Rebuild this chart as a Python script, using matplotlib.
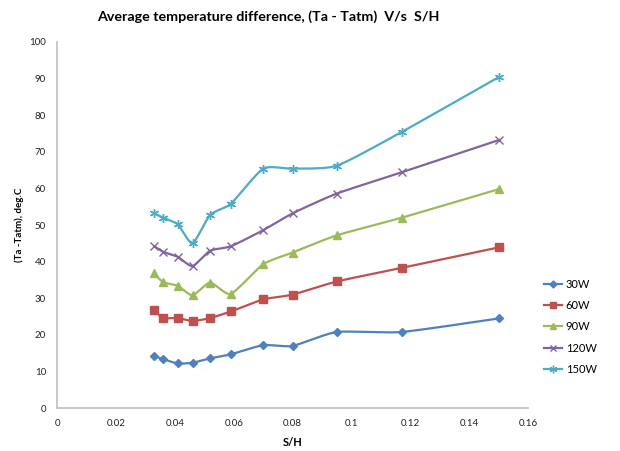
import numpy as np
import matplotlib
matplotlib.use('Agg')
import matplotlib.pyplot as plt

plt.rcParams['font.family'] = ['Lato', 'DejaVu Sans']

# S/H values (shared by all series)
s_h = [0.033, 0.036, 0.041, 0.046, 0.052, 0.059, 0.070, 0.080, 0.095, 0.117, 0.150]

# average temperature difference (Ta - Tatm), deg.C
t_30w = [14.2, 13.4, 12.2, 12.4, 13.6, 14.7, 17.2, 17.0, 20.8, 20.8, 24.5]
t_60w = [26.8, 24.6, 24.6, 23.8, 24.6, 26.4, 29.7, 31.0, 34.6, 38.3, 43.9]
t_90w = [36.8, 34.4, 33.4, 30.8, 34.3, 31.2, 39.3, 42.5, 47.2, 52.0, 59.8]
t_120w = [44.2, 42.7, 41.3, 38.8, 43.0, 44.2, 48.6, 53.2, 58.6, 64.4, 73.2]
t_150w = [53.2, 52.0, 50.2, 45.0, 52.8, 55.8, 65.4, 65.4, 66.2, 75.4, 90.4]

labels = ['30W', '60W', '90W', '120W', '150W']
series = [t_30w, t_60w, t_90w, t_120w, t_150w]
colors = ['#4F81BD', '#C0504D', '#9BBB59', '#8064A2', '#4BACC6']
markers = ['D', 's', '^', 'x', (6, 2, 0)]
msizes = [4.2, 5.5, 5.5, 5.5, 6.5]


def smooth(xs, ys, n=20):
    # Excel-like smoothed line (Catmull-Rom through the points)
    xs = np.asarray(xs, float)
    ys = np.asarray(ys, float)
    px = np.concatenate([[xs[0]], xs, [xs[-1]]])
    py = np.concatenate([[ys[0]], ys, [ys[-1]]])
    out_x, out_y = [], []
    t = np.linspace(0, 1, n)
    for i in range(1, len(px) - 2):
        for arr, out in ((px, out_x), (py, out_y)):
            p0, p1, p2, p3 = arr[i - 1], arr[i], arr[i + 1], arr[i + 2]
            m1 = (p2 - p0) / 2 * 0.6
            m2 = (p3 - p1) / 2 * 0.6
            h00 = 2 * t**3 - 3 * t**2 + 1
            h10 = t**3 - 2 * t**2 + t
            h01 = -2 * t**3 + 3 * t**2
            h11 = t**3 - t**2
            out.extend(h00 * p1 + h10 * m1 + h01 * p2 + h11 * m2)
    return out_x, out_y


fig = plt.figure(figsize=(6.2, 4.51), dpi=100)
ax = fig.add_axes([0.092, 0.095, 0.760, 0.812])

for lab, ys, c, m, ms in zip(labels, series, colors, markers, msizes):
    sx, sy = smooth(s_h, ys)
    ax.plot(sx, sy, color=c, lw=1.6, zorder=2)
    ax.plot(s_h, ys, linestyle='none', marker=m, color=c, ms=ms,
            mew=1.0, zorder=3)
    ax.plot([], [], color=c, lw=1.6, marker=m, ms=ms * 0.85, mew=1.0, label=lab)

ax.set_xlim(0, 0.16)
ax.set_ylim(0, 100)
ax.set_xticks(np.arange(0, 0.161, 0.02))
ax.set_xticklabels(['0', '0.02', '0.04', '0.06', '0.08', '0.1', '0.12', '0.14', '0.16'])
ax.set_yticks(range(0, 101, 10))
ax.tick_params(length=0, labelsize=7, colors='#222222', pad=8)

for s in ['top', 'right']:
    ax.spines[s].set_visible(False)
for s in ['left', 'bottom']:
    ax.spines[s].set_color('#BFBFBF')
    ax.spines[s].set_linewidth(1.2)

ax.set_xlabel('S/H', fontsize=8, fontweight='bold', labelpad=6)
ax.set_ylabel('(Ta -Tatm), deg.C', fontsize=7, fontweight='bold', labelpad=4)
fig.text(0.432, 0.962, 'Average temperature difference, (Ta - Tatm)  V/s  S/H',
         ha='center', va='center', fontsize=10.3, fontweight='bold')

ax.legend(loc='upper left', bbox_to_anchor=(1.025, 0.365), frameon=False,
          fontsize=8, handlelength=1.6, labelspacing=0.92, handletextpad=0.3,
          borderaxespad=0)

fig.savefig('out.png', dpi=100)
